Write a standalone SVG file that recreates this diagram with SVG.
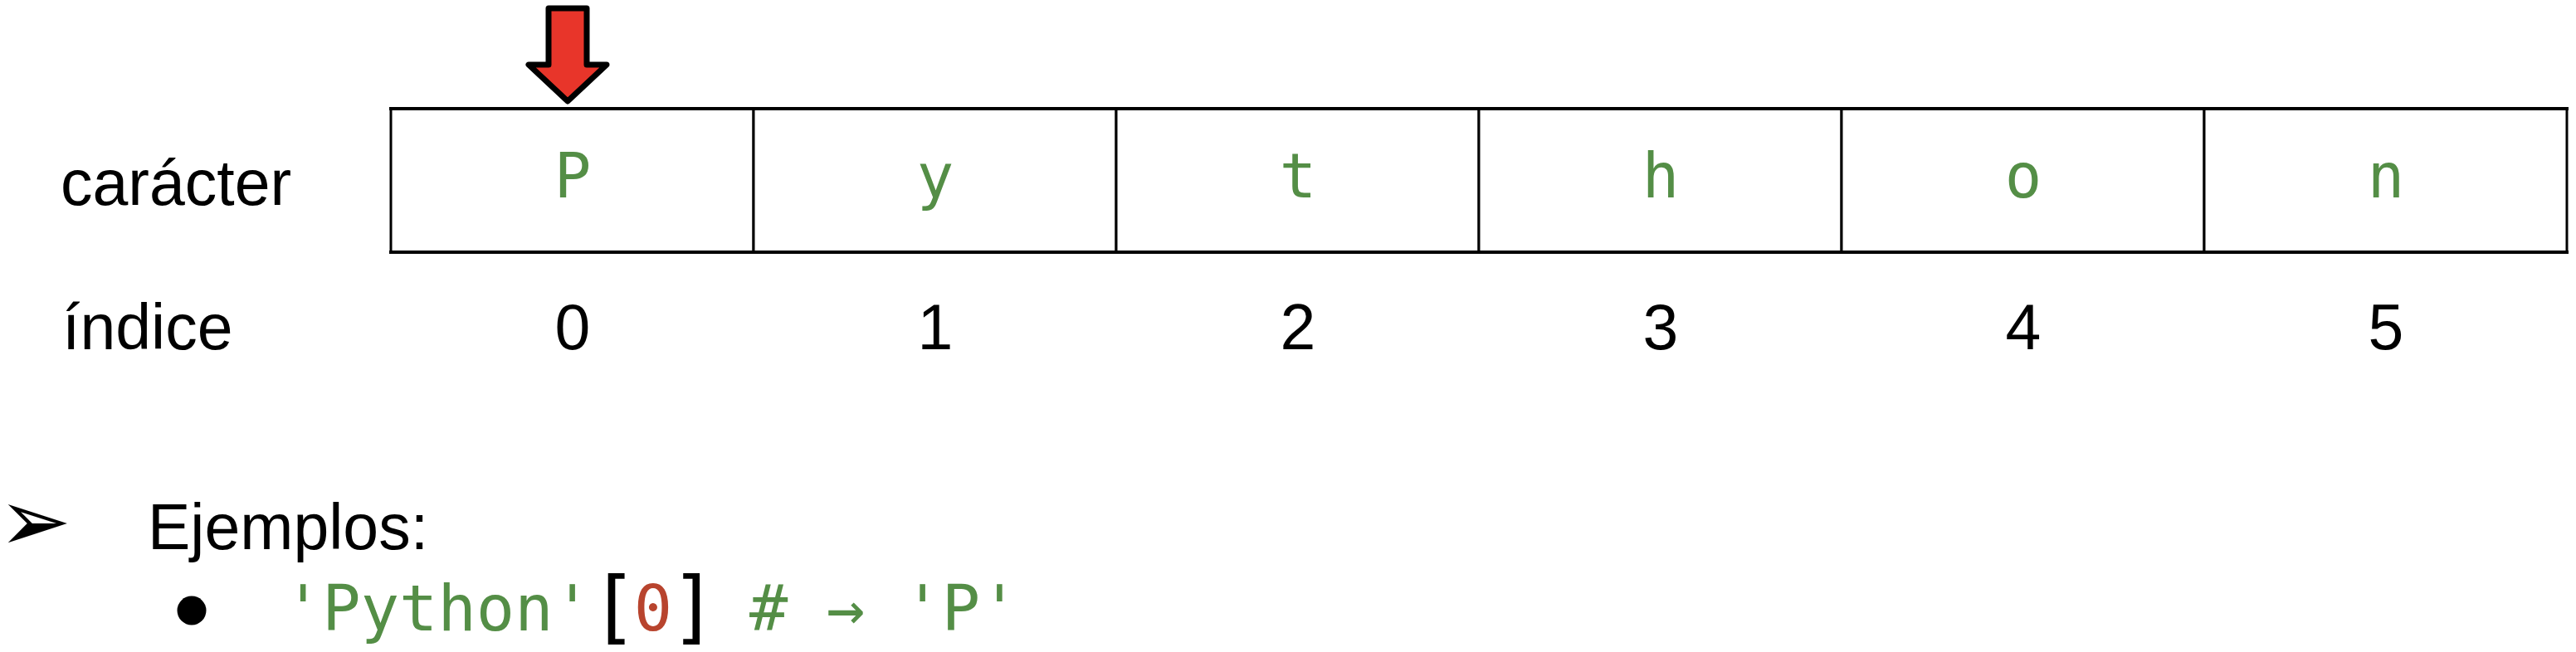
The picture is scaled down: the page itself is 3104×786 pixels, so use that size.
<svg xmlns="http://www.w3.org/2000/svg" width="3104" height="786" viewBox="0 0 3104 786">
<style>
.lbl{font-family:"Liberation Sans",Arial,sans-serif;font-size:77px;fill:#000}
.idx{font-family:"Liberation Sans",Arial,sans-serif;font-size:77px;fill:#000;text-anchor:middle}
.ch{font-family:"DejaVu Sans Mono","Liberation Mono",monospace;font-size:74px;fill:#548e46;text-anchor:middle}
.code{font-family:"DejaVu Sans Mono","Liberation Mono",monospace;font-size:77px}
.br{font-family:"DejaVu Sans Mono","Liberation Mono",monospace;font-size:96px;fill:#000;text-anchor:middle}
.g{fill:#548e46}.k{fill:#000}.r{fill:#b8442e}
.cell{fill:#fff;stroke:#000;stroke-width:3}
</style>
<rect width="3104" height="786" fill="#fff"/>
<text class="lbl" x="73" y="247">carácter</text>
<text class="lbl" x="75" y="421">índice</text>
<g id="cell0"><rect class="cell" x="471" y="131" width="437" height="173"/><text class="ch" x="690" y="238">P</text><text class="idx" x="690" y="421">0</text></g>
<g id="cell1"><rect class="cell" x="908" y="131" width="437" height="173"/><text class="ch" x="1127" y="238">y</text><text class="idx" x="1127" y="421">1</text></g>
<g id="cell2"><rect class="cell" x="1345" y="131" width="437" height="173"/><text class="ch" x="1564" y="238">t</text><text class="idx" x="1564" y="421">2</text></g>
<g id="cell3"><rect class="cell" x="1782" y="131" width="437" height="173"/><text class="ch" x="2001" y="238">h</text><text class="idx" x="2001" y="421">3</text></g>
<g id="cell4"><rect class="cell" x="2219" y="131" width="437" height="173"/><text class="ch" x="2438" y="238">o</text><text class="idx" x="2438" y="421">4</text></g>
<g id="cell5"><rect class="cell" x="2656" y="131" width="437" height="173"/><text class="ch" x="2875" y="238">n</text><text class="idx" x="2875" y="421">5</text></g>
<line x1="469" y1="131" x2="3095" y2="131" stroke="#000" stroke-width="4"/>
<line x1="469" y1="304" x2="3095" y2="304" stroke="#000" stroke-width="4"/>
<g id="connectors">
<polygon points="661,10 707,10 707,78 731,78 684,122 637,78 661,78" fill="#e8352a" stroke="#000" stroke-width="7" stroke-linejoin="round"/>
</g>
<g id="examples">
<text x="-2" y="664" font-family="DejaVu Sans,sans-serif" font-size="105" fill="#000">➢</text>
<text class="lbl" x="178" y="662">Ejemplos:</text>
<circle cx="231" cy="736" r="17.5" fill="#000"/>
<text class="code g" x="342" y="760">'Python'</text>
<text class="br" x="740" y="764">[</text>
<text class="code r" x="787" y="760" text-anchor="middle">0</text>
<text class="br" x="836" y="764">]</text>
<text class="code g" x="903" y="760"># → 'P'</text>
</g>
</svg>
